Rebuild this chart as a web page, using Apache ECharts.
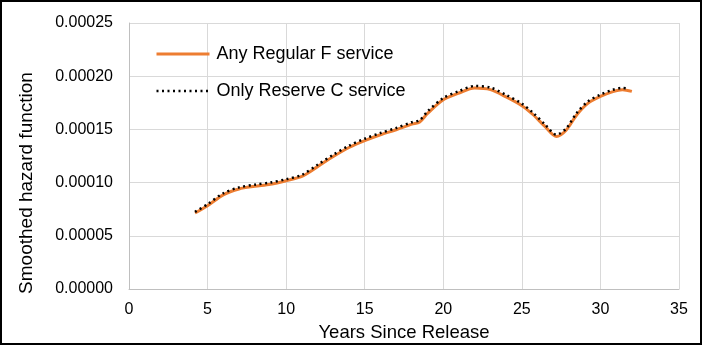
<!DOCTYPE html>
<html>
<head>
<meta charset="utf-8">
<script src="https://cdn.jsdelivr.net/npm/echarts@6/dist/echarts.min.js"></script>
<style>
html,body{margin:0;padding:0;background:#fff;}
#chart{width:702px;height:345px;}
</style>
</head>
<body>
<div id="chart"></div>
<script>
// Data (hazard values in units of 1e-5)
const regularYears = [4.2, 5, 6, 7, 8, 9, 10, 11, 12, 13, 14, 15, 16, 17, 18, 18.5, 19, 20, 21, 22, 23, 24, 25, 25.7, 26.5, 27.2, 27.8, 28.5, 29.2, 30, 30.8, 31.4, 32];
const regularValues = [7.14, 7.83, 8.85, 9.4, 9.65, 9.85, 10.18, 10.58, 11.5, 12.45, 13.3, 13.95, 14.5, 14.97, 15.5, 15.7, 16.5, 17.78, 18.42, 18.89, 18.74, 18.05, 17.23, 16.4, 15.23, 14.34, 14.9, 16.38, 17.45, 18.1, 18.55, 18.73, 18.57];
const reserveYears = [4.2, 5, 6, 7, 8, 9, 10, 11, 12, 13, 14, 15, 16, 17, 18, 18.5, 19, 20, 21, 22, 23, 24, 25, 25.7, 26.5, 27.2, 27.8, 28.5, 29.2, 30, 30.8, 31.4, 31.7];
const reserveValues = [7.25, 7.97, 9.0, 9.55, 9.8, 10.0, 10.32, 10.73, 11.68, 12.62, 13.47, 14.12, 14.66, 15.13, 15.67, 15.87, 16.7, 17.95, 18.6, 19.08, 18.93, 18.24, 17.42, 16.58, 15.42, 14.5, 15.05, 16.56, 17.62, 18.27, 18.72, 18.9, 18.85];
const seriesNames = ['Any Regular F service', 'Only Reserve C service'];
const xTicks = {min: 0, max: 35, interval: 5};
const yTicks = {min: 0, max: 0.00025, interval: 0.00005};
const xTitle = 'Years Since Release';
const yTitle = 'Smoothed hazard function';

const toPairs = (xs, vs) => xs.map((x, i) => [x, vs[i] * 1e-5]);
const font = '"Liberation Sans", Arial, sans-serif';

const chart = echarts.init(document.getElementById('chart'), null, {renderer: 'canvas'});
chart.setOption({
  animation: false,
  backgroundColor: '#fff',
  textStyle: {fontFamily: font},
  grid: {left: 129, right: 23, top: 23, bottom: 56, containLabel: false, outerBoundsMode: 'none'},
  legend: {
    orient: 'vertical',
    left: 150,
    top: 40,
    itemWidth: 53,
    itemHeight: 14,
    itemGap: 19,
    itemStyle: {color: 'rgba(0,0,0,0)', borderColor: 'rgba(0,0,0,0)', borderWidth: 0, opacity: 0},
    textStyle: {fontFamily: font, fontSize: 18, color: '#000', padding: [0, 0, 0, 2]},
    data: [
      {name: seriesNames[0], lineStyle: {width: 3}},
      {name: seriesNames[1], lineStyle: {width: 2.5}}
    ]
  },
  xAxis: {
    type: 'value',
    min: xTicks.min, max: xTicks.max, interval: xTicks.interval,
    axisLine: {show: true, lineStyle: {color: '#bfbfbf', width: 1}},
    axisTick: {show: false},
    splitLine: {show: true, lineStyle: {color: '#d9d9d9', width: 1}},
    axisLabel: {fontFamily: font, fontSize: 16, color: '#000', margin: 13},
    name: xTitle,
    nameLocation: 'middle',
    nameGap: 34.5,
    nameTextStyle: {fontFamily: font, fontSize: 18.5, color: '#000'}
  },
  yAxis: {
    type: 'value',
    min: yTicks.min, max: yTicks.max, interval: yTicks.interval,
    axisLine: {show: true, lineStyle: {color: '#bfbfbf', width: 1}},
    axisTick: {show: false},
    splitLine: {show: true, lineStyle: {color: '#d9d9d9', width: 1}},
    axisLabel: {fontFamily: font, fontSize: 16, color: '#000', margin: 16,
      formatter: v => v.toFixed(5)},
    name: yTitle,
    nameLocation: 'middle',
    nameGap: 93,
    nameTextStyle: {fontFamily: font, fontSize: 19, color: '#000', padding: [0, 54, 0, 0]}
  },
  series: [
    {
      name: seriesNames[0],
      type: 'line',
      data: toPairs(regularYears, regularValues),
      smooth: 0.3,
      showSymbol: false,
      symbol: 'none',
      color: '#ED7D31',
      lineStyle: {color: '#ED7D31', width: 3}
    },
    {
      name: seriesNames[1],
      type: 'line',
      data: toPairs(reserveYears, reserveValues),
      smooth: 0.3,
      showSymbol: false,
      symbol: 'none',
      color: '#000',
      lineStyle: {color: '#000', width: 2.5, type: [2, 3.5], cap: 'butt'}
    }
  ],
  graphic: [{
    type: 'rect',
    silent: true,
    shape: {x: 1, y: 1, width: 700, height: 343},
    style: {fill: 'none', stroke: '#000', lineWidth: 2},
    z: 100
  }]
});
</script>
</body>
</html>
